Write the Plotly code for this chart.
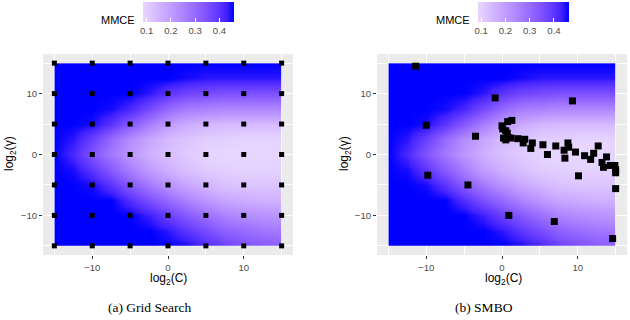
import plotly.graph_objects as go

# ---------------- data ----------------
log2C = [-15, -12.5, -10, -7.5, -5, -2.5, 0, 2.5, 5, 7.5, 10, 12.5, 15]
log2G = [-15, -12.5, -10, -7.5, -5, -2.5, 0, 2.5, 5, 7.5, 10, 12.5, 15]

# MMCE surface, rows = log2(gamma) from -15 to 15, cols = log2(C) from -15 to 15
mmce = [
    [0.46, 0.46, 0.46, 0.46, 0.46, 0.46, 0.46, 0.45, 0.42, 0.38, 0.35, 0.33, 0.32],
    [0.46, 0.46, 0.46, 0.46, 0.46, 0.46, 0.44, 0.40, 0.36, 0.32, 0.30, 0.28, 0.27],
    [0.46, 0.46, 0.46, 0.46, 0.46, 0.43, 0.38, 0.33, 0.29, 0.25, 0.23, 0.22, 0.21],
    [0.46, 0.46, 0.46, 0.46, 0.41, 0.35, 0.30, 0.25, 0.21, 0.18, 0.17, 0.16, 0.16],
    [0.46, 0.46, 0.45, 0.40, 0.33, 0.27, 0.22, 0.18, 0.15, 0.13, 0.12, 0.12, 0.12],
    [0.46, 0.45, 0.40, 0.33, 0.26, 0.20, 0.16, 0.13, 0.11, 0.10, 0.095, 0.095, 0.10],
    [0.46, 0.42, 0.34, 0.27, 0.21, 0.16, 0.13, 0.11, 0.09, 0.085, 0.085, 0.085, 0.09],
    [0.46, 0.44, 0.38, 0.30, 0.23, 0.18, 0.14, 0.12, 0.10, 0.10, 0.09, 0.09, 0.09],
    [0.46, 0.46, 0.45, 0.40, 0.33, 0.26, 0.20, 0.17, 0.15, 0.14, 0.14, 0.14, 0.14],
    [0.46, 0.46, 0.46, 0.45, 0.42, 0.36, 0.30, 0.26, 0.25, 0.24, 0.24, 0.24, 0.24],
    [0.46, 0.46, 0.46, 0.46, 0.46, 0.44, 0.40, 0.37, 0.36, 0.35, 0.35, 0.35, 0.35],
    [0.46, 0.46, 0.46, 0.46, 0.46, 0.46, 0.46, 0.45, 0.44, 0.44, 0.44, 0.44, 0.44],
    [0.46, 0.46, 0.46, 0.46, 0.46, 0.46, 0.46, 0.46, 0.46, 0.46, 0.46, 0.46, 0.46],
]

grid_C = [-15, -10, -5, 0, 5, 10, 15]
grid_G = [-15, -10, -5, 0, 5, 10, 15]

smbo_C = [-11.4, -10.0, -9.8, -3.5, -4.5, -0.9, 9.3, 0.0, 0.1, 0.75, 1.3, 0.5, 0.7,
          0.2, 0.5, 0.8, 1.2, 2.1, 3.0, 2.8, 4.0, 3.8, 5.4, 6.0, 7.1, 8.7, 8.8, 8.2,
          8.3, 9.7, 10.9, 11.7, 12.1, 12.7, 13.2, 13.4, 13.8, 14.3, 14.9, 15.0, 15.0,
          10.1, 15.0, 0.9, 6.9, 14.6]
smbo_G = [14.5, 4.8, -3.4, 3.0, -5.0, 9.3, 8.8, 4.7, 4.2, 5.4, 5.6, 3.9, 3.5,
          2.7, 2.4, 2.8, 2.7, 2.6, 2.5, 1.9, 1.9, 1.0, 1.6, 0.0, 1.4, 1.9, 1.2, 0.7,
          -0.6, 0.4, -0.2, -0.8, 0.2, 1.4, -1.3, -2.1, -0.4, -1.8, -1.8, -2.5, -3.0,
          -3.5, -5.6, -10.0, -11.0, -13.8]

tick_vals = [-10, 0, 10]
tick_text = ["\u221210", "0", "10"]
cbar_vals = [0.1, 0.2, 0.3, 0.4]
cbar_text = ["0.1", "0.2", "0.3", "0.4"]
captions = ["(a) Grid Search", "(b) SMBO"]

# ---------------- colour scale (Lab interpolation white -> blue) ----------------
def lab_to_hex(L, a, b):
    fy = (L + 16) / 116
    fx = fy + a / 500
    fz = fy - b / 200

    def finv(t):
        return t ** 3 if t ** 3 > 0.008856 else (t - 16 / 116) / 7.787

    X, Y, Z = 0.95047 * finv(fx), finv(fy), 1.08883 * finv(fz)
    r = 3.2406 * X - 1.5372 * Y - 0.4986 * Z
    g = -0.9689 * X + 1.8758 * Y + 0.0415 * Z
    bb = 0.0557 * X - 0.2040 * Y + 1.0570 * Z

    def gam(c):
        c = 1.055 * c ** (1 / 2.4) - 0.055 if c > 0.0031308 else 12.92 * c
        return int(round(max(0, min(1, c)) * 255))

    return "#%02x%02x%02x" % (gam(r), gam(g), gam(bb))

blue_lab = (32.30, 79.19, -107.86)
t0 = 0.17
n = 12
cscale = []
for i in range(n + 1):
    f = i / n
    t = t0 + (1 - t0) * f
    L = 100 + (blue_lab[0] - 100) * t
    a = blue_lab[1] * t
    b = blue_lab[2] * t
    cscale.append([f, lab_to_hex(L, a, b)])

CMIN, CMAX = 0.085, 0.46
W, H = 630, 320

fig = go.Figure()

def add_surface(xa, ya, cb_center):
    fig.add_trace(go.Contour(
        x=log2C, y=log2G, z=mmce, xaxis=xa, yaxis=ya,
        colorscale=cscale, zmin=CMIN, zmax=CMAX,
        contours=dict(coloring="heatmap", showlines=False),
        line=dict(width=0), ncontours=40,
        colorbar=dict(
            orientation="h", thickness=20, thicknessmode="pixels",
            len=91, lenmode="pixels",
            x=cb_center / W, xanchor="center",
            y=1 - 2 / H, yanchor="top", yref="paper", xref="paper",
            xpad=0, ypad=0, outlinewidth=0,
            tickvals=cbar_vals, ticktext=cbar_text,
            ticks="inside", ticklen=4, tickcolor="white", tickwidth=1,
            tickfont=dict(family="Liberation Sans, Arial", size=9.6, color="#4D4D4D"),
        ),
        hoverinfo="skip",
    ))

add_surface("x", "y", 188.5)
add_surface("x2", "y2", 523)

fig.add_trace(go.Scatter(
    x=[c for g in grid_G for c in grid_C],
    y=[g for g in grid_G for c in grid_C],
    mode="markers", xaxis="x", yaxis="y",
    marker=dict(symbol="square", size=5, color="black", line=dict(width=0)),
    showlegend=False,
))
fig.add_trace(go.Scatter(
    x=smbo_C, y=smbo_G, mode="markers", xaxis="x2", yaxis="y2",
    marker=dict(symbol="square", size=7, color="black", line=dict(width=0)),
    showlegend=False,
))

ax_common = dict(
    range=[-16.5, 16.5], tickvals=tick_vals, ticktext=tick_text,
    ticks="outside", ticklen=3, tickcolor="#333333", tickwidth=1,
    tickfont=dict(family="Liberation Sans, Arial", size=9.6, color="#4D4D4D"),
    showgrid=True, gridcolor="white", gridwidth=1.1,
    minor=dict(tick0=5, dtick=10, showgrid=True, gridcolor="white", gridwidth=0.5, ticks=""),
    zeroline=False, showline=False, fixedrange=True,
)
ydom = [1 - 255 / H, 1 - 54 / H]
fig.update_layout(
    width=W, height=H, margin=dict(l=0, r=0, t=0, b=0),
    paper_bgcolor="white", plot_bgcolor="#EBEBEB", showlegend=False,
    xaxis=dict(domain=[43 / W, 293 / W], anchor="y", **ax_common),
    yaxis=dict(domain=ydom, anchor="x", **ax_common),
    xaxis2=dict(domain=[377 / W, 627 / W], anchor="y2", **ax_common),
    yaxis2=dict(domain=ydom, anchor="x2", **ax_common),
)

ann = []
for xc, ytx in [(168, 10), (503, 345)]:
    ann.append(dict(text="log<sub>2</sub>(C)", x=xc / W, y=1 - 279 / H, xref="paper", yref="paper",
                    showarrow=False, xanchor="center", yanchor="middle",
                    font=dict(family="Liberation Sans, Arial", size=12, color="black")))
    ann.append(dict(text="log<sub>2</sub>(\u03b3)", x=ytx / W, y=1 - 154 / H, xref="paper", yref="paper",
                    showarrow=False, xanchor="center", yanchor="middle", textangle=-90,
                    font=dict(family="Liberation Sans, Arial", size=12, color="black")))
for xr in [137, 472]:
    ann.append(dict(text="MMCE", x=xr / W, y=1 - 20 / H, xref="paper", yref="paper",
                    showarrow=False, xanchor="right", yanchor="middle",
                    font=dict(family="Liberation Sans, Arial", size=11, color="black")))
for cap, xc in zip(captions, [149, 484]):
    ann.append(dict(text=cap, x=xc / W, y=1 - 307 / H, xref="paper", yref="paper",
                    showarrow=False, xanchor="center", yanchor="middle",
                    font=dict(family="Liberation Serif, Times New Roman", size=13.5, color="black")))
fig.update_layout(annotations=ann)

fig.write_html("out.html")
